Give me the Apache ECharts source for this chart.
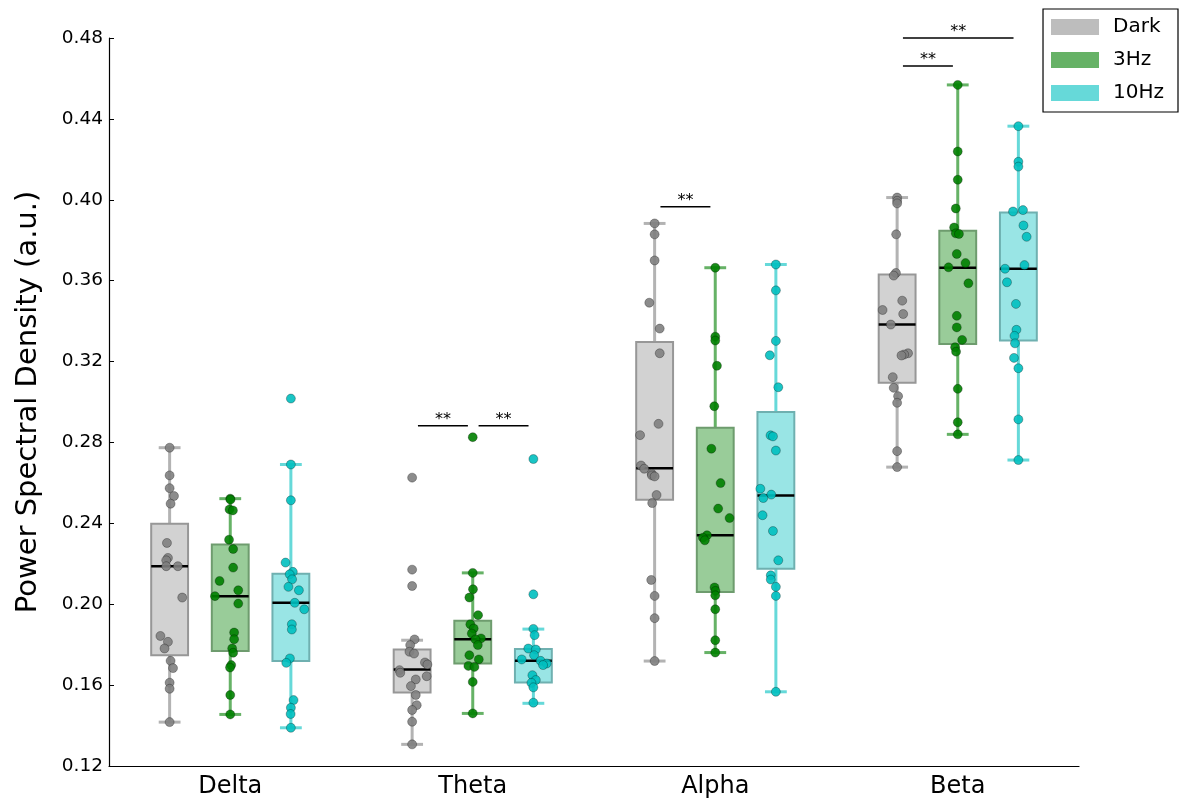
<!DOCTYPE html>
<html><head><meta charset="utf-8">
<script src="https://cdn.jsdelivr.net/npm/echarts@6/dist/echarts.min.js"></script>
<style>html,body{margin:0;padding:0;background:#fff}#c{width:1183px;height:803px}</style>
</head><body><div id="c"></div>
<script>
// ---------------- data ----------------
const categories = ['Delta', 'Theta', 'Alpha', 'Beta'];
const groupNames = ['Dark', '3Hz', '10Hz'];
const yMin = 0.12, yMax = 0.48, yStep = 0.04;

// box stats per category: [min, q1, median, q3, max]
const darkBox = [
  [0.1417, 0.1748, 0.2188, 0.2398, 0.2774],
  [0.1307, 0.1564, 0.1677, 0.1776, 0.1822],
  [0.1719, 0.2517, 0.2673, 0.3297, 0.3883],
  [0.2678, 0.3095, 0.3383, 0.3630, 0.4011]
];
const hz3Box = [
  [0.1455, 0.1769, 0.2040, 0.2295, 0.2522],
  [0.1460, 0.1707, 0.1827, 0.1918, 0.2155],
  [0.1761, 0.2061, 0.2341, 0.2873, 0.3664],
  [0.2840, 0.3287, 0.3664, 0.3847, 0.4568]
];
const hz10Box = [
  [0.1389, 0.1719, 0.2007, 0.2151, 0.2691],
  [0.1510, 0.1613, 0.1720, 0.1779, 0.1877],
  [0.1567, 0.2176, 0.2538, 0.2950, 0.3680],
  [0.2713, 0.3304, 0.3659, 0.3937, 0.4364]
];

// individual subjects per category: [value, horizontal jitter (category units)]
const darkPoints = [
  [[0.2774,0],[0.2637,0],[0.2574,0],[0.2535,0.018],[0.2497,0.004],[0.2303,-0.011],[0.2229,-0.007],[0.2217,-0.014],[0.2188,-0.014],[0.2188,0.034],[0.2033,0.052],[0.1843,-0.038],[0.1814,-0.007],[0.1781,-0.021],[0.1720,0.004],[0.1684,0.014],[0.1612,0],[0.1582,0],[0.1417,0]],
  [[0.2626,0],[0.2171,0],[0.2090,0],[0.1826,0.010],[0.1798,-0.008],[0.1765,-0.011],[0.1756,0.008],[0.1712,0.053],[0.1702,0.063],[0.1674,-0.052],[0.1661,-0.049],[0.1644,0.060],[0.1628,0.015],[0.1595,-0.005],[0.1551,0.015],[0.1501,0.019],[0.1477,0],[0.1419,0],[0.1307,0]],
  [[0.3883,0],[0.3829,0],[0.3700,0],[0.3491,-0.022],[0.3363,0.021],[0.3241,0.021],[0.2892,0.016],[0.2836,-0.060],[0.2686,-0.056],[0.2670,-0.043],[0.2645,-0.012],[0.2637,-0.011],[0.2632,0],[0.2540,0.008],[0.2500,-0.010],[0.2120,-0.014],[0.2041,0],[0.1931,0],[0.1719,0]],
  [[0.4011,0],[0.3995,0],[0.3982,0],[0.3829,-0.004],[0.3638,-0.005],[0.3625,-0.014],[0.3501,0.021],[0.3455,-0.060],[0.3435,0.025],[0.3383,-0.026],[0.3241,0.045],[0.3235,0.029],[0.3230,0.018],[0.3123,-0.018],[0.3070,-0.014],[0.3029,0.004],[0.2996,0],[0.2757,0],[0.2678,0]]
];
const hz3Points = [
  [[0.2522,0],[0.2517,0.001],[0.2469,-0.003],[0.2464,0.011],[0.2319,-0.005],[0.2273,0.012],[0.2181,0.012],[0.2115,-0.044],[0.2069,0.033],[0.2040,-0.063],[0.2003,0.033],[0.1860,0.016],[0.1827,0.016],[0.1781,0.008],[0.1760,0.012],[0.1699,0.004],[0.1687,-0.001],[0.1551,0],[0.1455,0]],
  [[0.2826,0],[0.2155,0],[0.2074,0.001],[0.2033,-0.014],[0.1946,0.022],[0.1901,-0.010],[0.1880,0.004],[0.1855,-0.004],[0.1831,0.034],[0.1826,0.011],[0.1798,0.021],[0.1748,-0.014],[0.1727,0.025],[0.1695,-0.018],[0.1690,0.007],[0.1616,0],[0.1460,0]],
  [[0.3664,0],[0.3323,0],[0.3304,0],[0.3179,0.007],[0.2979,-0.004],[0.2769,-0.016],[0.2599,0.022],[0.2473,0.012],[0.2426,0.059],[0.2341,-0.034],[0.2329,-0.051],[0.2316,-0.043],[0.2083,-0.003],[0.2066,0.001],[0.2044,0],[0.1975,0],[0.1822,0],[0.1761,0]],
  [[0.4568,0],[0.4239,0],[0.4099,0],[0.3957,-0.008],[0.3863,-0.015],[0.3834,-0.008],[0.3831,0.005],[0.3732,-0.004],[0.3687,0.032],[0.3666,-0.038],[0.3587,0.044],[0.3426,-0.004],[0.3369,-0.004],[0.3307,0.018],[0.3271,-0.011],[0.3249,-0.007],[0.3065,0],[0.2900,0],[0.2840,0]]
];
const hz10Points = [
  [[0.3017,0],[0.2691,0],[0.2514,0],[0.2206,-0.022],[0.2160,0.008],[0.2148,-0.005],[0.2123,0.005],[0.2086,-0.010],[0.2069,0.033],[0.2007,0.016],[0.1975,0.055],[0.1901,0.004],[0.1875,0.004],[0.1732,-0.004],[0.1710,-0.019],[0.1526,0.011],[0.1488,0],[0.1457,-0.001],[0.1389,0]],
  [[0.2718,0],[0.2049,0],[0.1878,0],[0.1847,0.005],[0.1781,-0.021],[0.1776,0.010],[0.1748,0.003],[0.1727,-0.048],[0.1720,0.030],[0.1707,0.055],[0.1699,0.040],[0.1649,-0.004],[0.1625,0.010],[0.1611,-0.008],[0.1589,0],[0.1513,0]],
  [[0.3680,0],[0.3552,0],[0.3302,0],[0.3231,-0.025],[0.3073,0.010],[0.2835,-0.022],[0.2830,-0.012],[0.2760,0],[0.2571,-0.064],[0.2542,-0.019],[0.2525,-0.052],[0.2440,-0.055],[0.2362,-0.012],[0.2217,0.010],[0.2143,-0.021],[0.2122,-0.021],[0.2086,0],[0.2041,0],[0.1567,0]],
  [[0.4364,0],[0.4188,0],[0.4164,0],[0.3949,0.019],[0.3942,-0.022],[0.3873,0.021],[0.3817,0.034],[0.3677,0.025],[0.3659,-0.055],[0.3592,-0.047],[0.3485,-0.010],[0.3357,-0.008],[0.3327,-0.016],[0.3290,-0.014],[0.3218,-0.018],[0.3167,0],[0.2914,0],[0.2713,0]]
];

// significance bars: [category index, from group, to group, bar height, label]
const sigCategory = [1, 1, 2, 3, 3];
const sigFrom = [0, 1, 0, 0, 0];
const sigTo = [1, 2, 1, 1, 2];
const sigLevel = [0.2882, 0.2882, 0.3965, 0.4662, 0.4800];
const sigLabel = ['**', '**', '**', '**', '**'];

// ---------------- layout / style ----------------
const FONT = 'DejaVu Sans';
const OFFS = [-0.25, 0, 0.25];
const BOX_W = 0.152, CAP_W = 0.09;
const FILL = ['#d2d2d2', '#99cc99', '#99e5e5'];
const EDGE = ['#979797', '#6e9c6e', '#6fb0b0'];
const WHISK = ['#b3b3b3', '#66b266', '#66d9d9'];
const LEG = ['#bdbdbd', '#66b266', '#66d9d9'];
const PT = ['#808080', '#008000', '#00bfbf'];
const boxSets = [darkBox, hz3Box, hz10Box];
const pointSets = [darkPoints, hz3Points, hz10Points];

function boxRender(gi) {
  return function (params, api) {
    const x = api.value(0) + OFFS[gi];
    const pMin = api.coord([x, api.value(1)]);
    const pQ1 = api.coord([x, api.value(2)]);
    const pMed = api.coord([x, api.value(3)]);
    const pQ3 = api.coord([x, api.value(4)]);
    const pMax = api.coord([x, api.value(5)]);
    const bw = api.size([BOX_W, 0])[0];
    const cw = api.size([CAP_W, 0])[0];
    const xc = pMin[0];
    const ws = { stroke: WHISK[gi], lineWidth: 3 };
    return {
      type: 'group', children: [
        { type: 'line', shape: { x1: xc, y1: pMax[1], x2: xc, y2: pMin[1] }, style: ws },
        { type: 'line', shape: { x1: xc - cw / 2, y1: pMax[1], x2: xc + cw / 2, y2: pMax[1] }, style: ws },
        { type: 'line', shape: { x1: xc - cw / 2, y1: pMin[1], x2: xc + cw / 2, y2: pMin[1] }, style: ws },
        { type: 'rect', shape: { x: xc - bw / 2, y: pQ3[1], width: bw, height: pQ1[1] - pQ3[1] },
          style: { fill: FILL[gi], stroke: EDGE[gi], lineWidth: 2 } },
        { type: 'line', shape: { x1: xc - bw / 2, y1: pMed[1], x2: xc + bw / 2, y2: pMed[1] },
          style: { stroke: '#000', lineWidth: 2.5 } }
      ]
    };
  };
}

const series = [];
groupNames.forEach(function (name, gi) {
  series.push({
    name: name, type: 'custom', xAxisIndex: 1, yAxisIndex: 0, z: 2,
    renderItem: boxRender(gi), clip: false,
    itemStyle: { color: LEG[gi] },
    data: boxSets[gi].map(function (b, ci) { return [ci].concat(b); })
  });
});
groupNames.forEach(function (name, gi) {
  const pts = [];
  pointSets[gi].forEach(function (arr, ci) {
    arr.forEach(function (p) { pts.push([ci + OFFS[gi] + p[1], p[0]]); });
  });
  series.push({
    name: name + ' subjects', type: 'scatter', xAxisIndex: 1, yAxisIndex: 0, z: 3,
    symbol: 'circle', symbolSize: 9, silent: true,
    itemStyle: { color: PT[gi], borderColor: 'rgba(0,0,0,0.45)', borderWidth: 0.7, opacity: 0.9 },
    data: pts
  });
});
series.push({
  name: 'sig', type: 'custom', xAxisIndex: 1, yAxisIndex: 0, z: 4, clip: false, silent: true,
  data: sigCategory.map(function (c, i) { return [c, sigFrom[i], sigTo[i], sigLevel[i], i]; }),
  renderItem: function (params, api) {
    const c = api.value(0), f = api.value(1), t = api.value(2), v = api.value(3), i = api.value(4);
    const p1 = api.coord([c + OFFS[f] + 0.024, v]);
    const p2 = api.coord([c + OFFS[t] - 0.02, v]);
    return {
      type: 'group', children: [
        { type: 'line', shape: { x1: p1[0], y1: p1[1], x2: p2[0], y2: p2[1] }, style: { stroke: '#000', lineWidth: 1.5 } },
        { type: 'text', x: (p1[0] + p2[0]) / 2, y: p1[1] + 2,
          style: { text: sigLabel[i], fill: '#000', font: '16px "DejaVu Sans"', align: 'center', verticalAlign: 'bottom' } }
      ]
    };
  }
});

const chart = echarts.init(document.getElementById('c'), null, { renderer: 'canvas' });
chart.setOption({
  animation: false,
  backgroundColor: '#fff',
  textStyle: { fontFamily: FONT },
  grid: { left: 109, right: 104, top: 38, bottom: 37, containLabel: false, outerBoundsMode: 'none' },
  legend: {
    right: 5, top: 9, orient: 'vertical',
    data: groupNames.map(function (n, gi) { return { name: n, icon: 'rect', itemStyle: { color: LEG[gi] } }; }),
    itemWidth: 48, itemHeight: 16, itemGap: 13,
    padding: [8, 14, 9, 8],
    borderColor: '#000', borderWidth: 1.2, borderRadius: 0,
    backgroundColor: '#fff',
    textStyle: { fontSize: 20, color: '#000', fontFamily: FONT, padding: [0, 0, 0, 9] },
    selectedMode: false
  },
  xAxis: [
    {
      type: 'category', data: categories, boundaryGap: true,
      axisLine: { lineStyle: { color: '#000', width: 1.2 } },
      axisTick: { inside: true, alignWithLabel: true, length: 5, lineStyle: { color: '#000' } },
      axisLabel: { fontSize: 24, color: '#000', margin: 9, fontFamily: FONT },
      splitLine: { show: false }
    },
    { type: 'value', min: -0.5, max: 3.5, show: false }
  ],
  yAxis: {
    type: 'value', min: yMin, max: yMax, interval: yStep, position: 'left',
    name: 'Power Spectral Density (a.u.)', nameLocation: 'middle', nameGap: 66,
    nameTextStyle: { fontSize: 29, color: '#000', fontFamily: FONT },
    axisLine: { show: true, onZero: false, lineStyle: { color: '#000', width: 1.2 } },
    axisTick: { show: true, inside: true, length: 5, lineStyle: { color: '#000' } },
    axisLabel: { fontSize: 18.5, color: '#000', margin: 6, fontFamily: FONT, formatter: function (v) { return v.toFixed(2); } },
    splitLine: { show: false }
  },
  series: series
});
</script>
</body></html>
